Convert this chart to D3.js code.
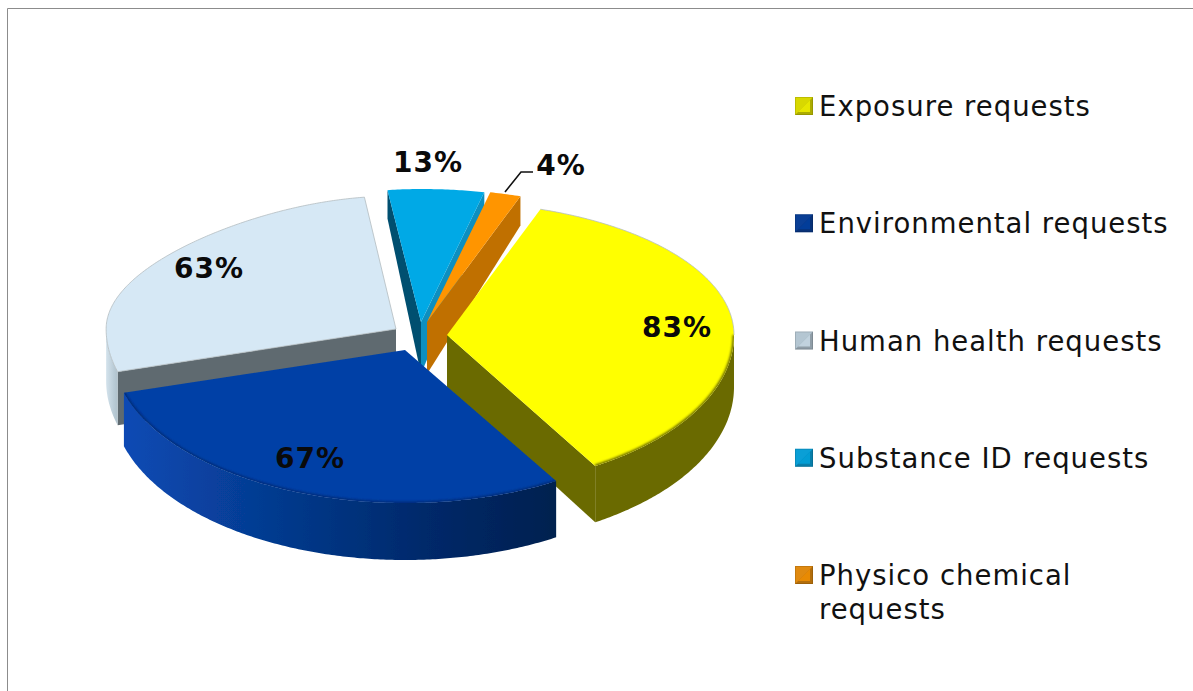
<!DOCTYPE html>
<html><head><meta charset="utf-8">
<script src="https://cdn.jsdelivr.net/npm/d3@7"></script>
<style>html,body{margin:0;padding:0;background:#fff;overflow:hidden}svg{display:block}</style>
</head><body><svg id="c" width="1193" height="691"></svg>
<script>
const categories = ["Exposure requests","Environmental requests","Human health requests","Substance ID requests","Physico chemical requests"];
const values = [83,67,63,13,4];
const labels = ["83%","67%","63%","13%","4%"];
const topColors = ["#ffff00","#0041a6","#d6e8f5","#00a9e6","#ff9500"];
const rimColors = ["#6b6b00","url(#blueWall)","url(#humanRim)","#004f70","#c07000"];
const startWallColors = [null,null,"#5f6a70","#004f70",null];
const endWallColors = ["#6b6b00",null,null,"#0b8fbf","#c07000"];
const edgeShade = ["#6b6b00","#002a78",null,null,null];
const swatchColors = ["#d8d800","#0a3f96","#b4c6d2","#0a9fd6","#e08a10"];
// apex, size and back-edge narrowing of every exploded slice
const apexX = [447,405,396,421,427], apexY = [335,350,329,322,322];
const sliceScale = [1,1.02,1.01,1,1];
const backNarrow = [0,0,0.18,0.12,0];
const drawOrder = [3,4,2,0,1];
const rx = 287, ryBack = 133, ryFront = 153;

const svg = d3.select("#c");
const defs = svg.append("defs");
const g1 = defs.append("linearGradient").attr("id","blueWall").attr("gradientUnits","userSpaceOnUse")
  .attr("x1",125).attr("x2",555).attr("y1",0).attr("y2",0);
[[0,"#0a4ab4"],[0.35,"#053a8e"],[0.7,"#02296a"],[1,"#00204f"]].forEach(s=>g1.append("stop").attr("offset",s[0]).attr("stop-color",s[1]));
const g2 = defs.append("linearGradient").attr("id","humanRim").attr("gradientUnits","userSpaceOnUse")
  .attr("x1",104).attr("x2",124).attr("y1",0).attr("y2",0);
[[0,"#dbe9f2"],[0.5,"#b9cbd6"],[1,"#9fb0ba"]].forEach(s=>g2.append("stop").attr("offset",s[0]).attr("stop-color",s[1]));
const soft = defs.append("filter").attr("id","soft").attr("x","-5%").attr("y","-5%").attr("width","110%").attr("height","110%");
soft.append("feGaussianBlur").attr("stdDeviation",0.6);
const bevel = defs.append("filter").attr("id","bevel").attr("x","-5%").attr("y","-5%").attr("width","110%").attr("height","110%");
bevel.append("feGaussianBlur").attr("stdDeviation",1.3);

// frame
svg.append("path").attr("d","M7.5,691V8.5H1193").attr("fill","none").attr("stroke","#8c8c8c").attr("stroke-width",1);

const pie = d3.pie().sort(null).startAngle(19*Math.PI/180).endAngle((360+19)*Math.PI/180);
const arcs = pie(values);

const xS = d3.scaleLinear().domain([-1,1]).range([-rx,rx]);
const yS = d3.scaleLinear().domain([-1,0,1]).range([-ryBack,0,ryFront]);
const depthS = d3.scaleLinear().domain([-1,0,1]).range([28,52,57]);
const proj = (i,t,a) => {
  const s = Math.sin(a), c = Math.cos(a), v = -t*c;
  const narrow = (s<0 && c>0) ? 1-backNarrow[i]*c*c : 1;
  return {x:apexX[i]+xS(t*s*sliceScale[i]*narrow), y:apexY[i]+yS(v), d:depthS(v)};
};
const line = d3.line().x(p=>p.x).y(p=>p.y);
const angles = (a0,a1) => { const n=Math.max(2,Math.ceil((a1-a0)/0.01)); return d3.range(n+1).map(k=>a0+(a1-a0)*k/n); };

const chart = svg.append("g").attr("filter","url(#soft)");
drawOrder.forEach(i=>{
  const a = arcs[i], g = chart.append("g");
  const apex = proj(i,0,0);
  const cut = (ang,color) => {
    if(!color) return;
    const p = proj(i,1,ang);
    const pts = [apex,p,{x:p.x,y:p.y+p.d},{x:apex.x,y:apex.y+apex.d}];
    g.append("path").attr("d",line(pts)+"Z").attr("fill",color);
  };
  cut(a.startAngle,startWallColors[i]);
  cut(a.endAngle,endWallColors[i]);
  const r0 = Math.max(a.startAngle,Math.PI/2), r1 = Math.min(a.endAngle,1.5*Math.PI);
  if(r1>r0){
    const up = angles(r0,r1).map(t=>proj(i,1,t));
    const down = up.slice().reverse().map(p=>({x:p.x,y:p.y+p.d}));
    g.append("path").attr("d",line(up.concat(down))+"Z").attr("fill",rimColors[i]);
  }
  const rim = angles(a.startAngle,a.endAngle).map(t=>proj(i,1,t));
  const topPath = line([apex].concat(rim))+"Z";
  g.append("path").attr("d",topPath).attr("fill",topColors[i])
    .attr("stroke","#b4bcc0").attr("stroke-width",i===2?0.8:0);
  if(edgeShade[i]){
    // soft shaded bevel where the top face meets the front wall, kept inside the top face
    defs.append("clipPath").attr("id","clip"+i).append("path").attr("d",topPath);
    g.append("g").attr("clip-path",`url(#clip${i})`)
      .append("path").attr("d",line(angles(r0,r1).map(t=>proj(i,1,t)))).attr("fill","none")
      .attr("stroke",edgeShade[i]).attr("stroke-width",3).attr("filter","url(#bevel)");
  }
  if(i===0){
    g.append("path").attr("d",line(angles(a.startAngle,Math.PI/2).map(t=>proj(i,1,t)))).attr("fill","none")
      .attr("stroke","#b4bcc0").attr("stroke-width",0.8);
  }
});

// data labels
const labelX = [677,310,209,428,561], labelY = [327,458,268,162,165];
svg.append("path").attr("d",d3.line()([[505,192],[521,172],[533,172]])).attr("fill","none").attr("stroke","#111").attr("stroke-width",1.6);
labels.forEach((t,i)=>svg.append("text").attr("x",labelX[i]).attr("y",labelY[i]).attr("text-anchor","middle")
  .attr("dominant-baseline","central").attr("font-family","'DejaVu Sans'").attr("font-weight","bold")
  .attr("letter-spacing",1).attr("font-size",28).attr("fill","#0a0a0a").text(t));

// legend
const legendY = d3.scalePoint().domain(categories).range([106,575]);
const legendLines = [["Exposure requests"],["Environmental requests"],["Human health requests"],["Substance ID requests"],["Physico chemical","requests"]];
categories.forEach((c,i)=>{
  const y = legendY(c), g = svg.append("g").attr("transform",`translate(795,${y-9})`);
  g.append("rect").attr("width",18).attr("height",18).attr("fill",swatchColors[i]);
  g.append("path").attr("d","M0,18L18,0V18Z").attr("fill","#000").attr("opacity",0.2);
  g.append("path").attr("d","M3,15L15,3V15Z").attr("fill",topColors[i]).attr("opacity",0.7);
  g.append("rect").attr("x",0.5).attr("y",0.5).attr("width",17).attr("height",17).attr("fill","none").attr("stroke","#000").attr("stroke-opacity",0.12);
  legendLines[i].forEach((t,k)=>svg.append("text").attr("x",819).attr("y",y+k*34).attr("dominant-baseline","central")
    .attr("font-family","'DejaVu Sans'").attr("letter-spacing",1).attr("font-size",27.5).attr("fill","#111").text(t));
});
</script></body></html>
